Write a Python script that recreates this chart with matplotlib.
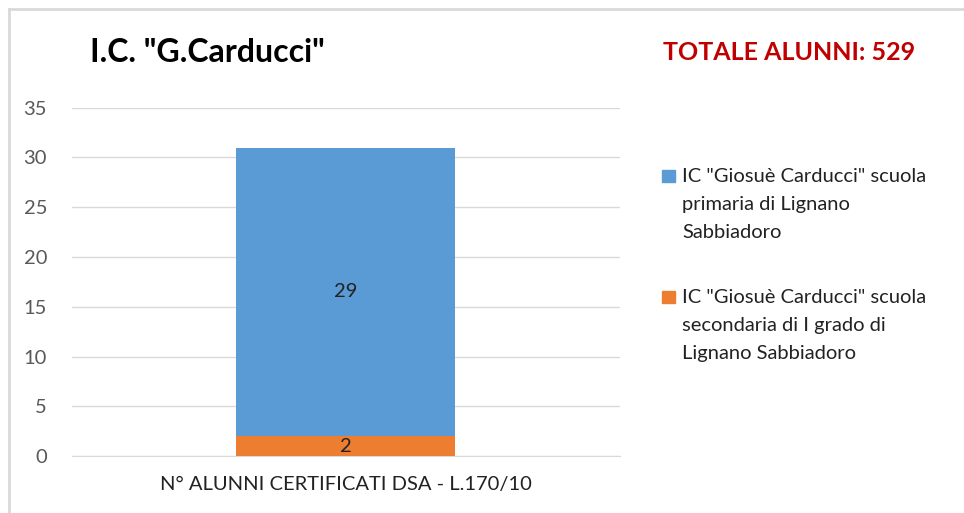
import matplotlib.pyplot as plt
from matplotlib.lines import Line2D
from matplotlib.patches import Rectangle

plt.rcParams['font.family'] = ['Lato', 'DejaVu Sans']

# data
category = ['N° ALUNNI CERTIFICATI DSA - L.170/10']
secondaria = [2]
primaria = [29]
series_names = ['IC "Giosuè Carducci" scuola\nprimaria di Lignano\nSabbiadoro',
                'IC "Giosuè Carducci" scuola\nsecondaria di I grado di\nLignano Sabbiadoro']
totale = 529

blue = '#5B9BD5'
orange = '#ED7D31'

fig = plt.figure(figsize=(9.64, 5.13), dpi=100)
ax = fig.add_axes([0.0747, 0.111, 0.568, 0.679])

b1 = ax.bar(category, secondaria, width=0.4, color=orange, zorder=3)
b2 = ax.bar(category, primaria, width=0.4, bottom=secondaria, color=blue, zorder=3)

for bars, vals, bottoms in [(b1, secondaria, [0]), (b2, primaria, secondaria)]:
    for r, v, bt in zip(bars, vals, bottoms):
        ax.text(r.get_x() + r.get_width() / 2, bt + v / 2, str(v),
                ha='center', va='center', fontsize=14.5, color='#222222', zorder=4)

ax.set_xlim(-0.5, 0.5)
ax.set_ylim(0, 35)
ax.set_yticks(range(0, 36, 5))
ax.yaxis.grid(True, color='#D9D9D9', linewidth=1, zorder=0)
for s in ax.spines.values():
    s.set_visible(False)
ax.spines['bottom'].set_visible(True)
ax.spines['bottom'].set_color('#D9D9D9')
ax.tick_params(axis='both', length=0, colors='#595959')
ax.tick_params(axis='x', pad=14, labelcolor='#222222', labelsize=14.5)
ax.tick_params(axis='y', pad=18, labelsize=14.5)

fig.text(0.093, 0.898, 'I.C. "G.Carducci"', fontsize=23, fontweight='bold',
         color='black', va='center')
fig.text(0.688, 0.898, 'TOTALE ALUNNI: ' + str(totale), fontsize=18,
         fontweight='bold', color='#C00000', va='center')

# legend drawn by hand so the marker sits at the first line
handles_col = [blue, orange]
text_y = [0.602, 0.366]
marker_y = [0.657, 0.421]
for name, col, ty, my in zip(series_names, handles_col, text_y, marker_y):
    fig.patches.append(Rectangle((0.687, my - 0.0117), 0.0135, 0.0234,
                                 transform=fig.transFigure, color=col, figure=fig))
    fig.text(0.7075, ty, name, fontsize=14.5, color='#222222', va='center',
             linespacing=1.78)

# light border at top and left
fig.add_artist(Line2D([0.009, 1.0], [0.982, 0.982], color='#D9D9D9', linewidth=2))
fig.add_artist(Line2D([0.009, 0.009], [0.0, 0.982], color='#D9D9D9', linewidth=2))

fig.savefig('out.png', dpi=100)
